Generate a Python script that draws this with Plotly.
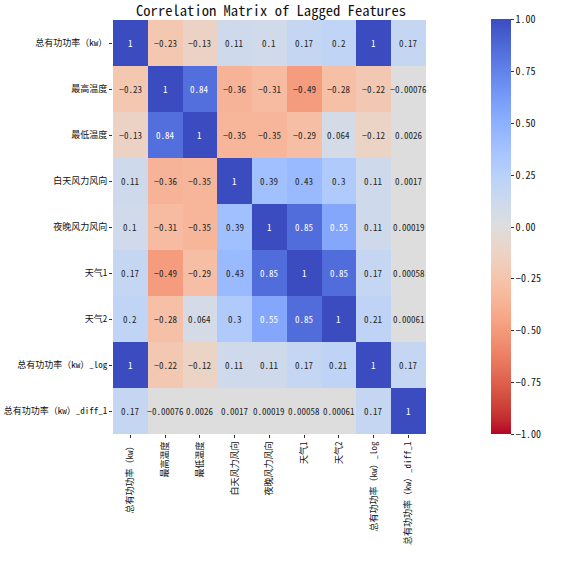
import plotly.graph_objects as go

labels = ["总有功功率（kw）", "最高温度", "最低温度", "白天风力风向", "夜晚风力风向",
          "天气1", "天气2", "总有功功率（kw）_log", "总有功功率（kw）_diff_1"]

row0 = [1, -0.23, -0.13, 0.11, 0.1, 0.17, 0.2, 1, 0.17]
row1 = [-0.23, 1, 0.84, -0.36, -0.31, -0.49, -0.28, -0.22, -0.00076]
row2 = [-0.13, 0.84, 1, -0.35, -0.35, -0.29, 0.064, -0.12, 0.0026]
row3 = [0.11, -0.36, -0.35, 1, 0.39, 0.43, 0.3, 0.11, 0.0017]
row4 = [0.1, -0.31, -0.35, 0.39, 1, 0.85, 0.55, 0.11, 0.00019]
row5 = [0.17, -0.49, -0.29, 0.43, 0.85, 1, 0.85, 0.17, 0.00058]
row6 = [0.2, -0.28, 0.064, 0.3, 0.55, 0.85, 1, 0.21, 0.00061]
row7 = [1, -0.22, -0.12, 0.11, 0.11, 0.17, 0.21, 1, 0.17]
row8 = [0.17, -0.00076, 0.0026, 0.0017, 0.00019, 0.00058, 0.00061, 0.17, 1]
z = [row0, row1, row2, row3, row4, row5, row6, row7, row8]

cbar_ticks = [-1.0, -0.75, -0.5, -0.25, 0.0, 0.25, 0.5, 0.75, 1.0]

# matplotlib coolwarm (Moreland), reversed so +1 is blue
cw = [(59,76,192),(68,90,204),(77,104,215),(87,117,225),(98,130,234),(108,142,241),
      (119,154,247),(130,165,251),(141,176,254),(152,185,255),(163,194,255),(174,201,253),
      (184,208,249),(194,213,244),(204,217,238),(213,219,230),(221,221,221),(229,216,209),
      (236,211,197),(241,204,185),(245,196,173),(247,187,160),(247,177,148),(247,166,135),
      (244,154,123),(241,141,111),(236,127,99),(229,112,88),(222,96,77),(213,80,66),
      (203,62,56),(192,40,47),(180,4,38)]
n = len(cw) - 1
colorscale = [[i / n, "rgb(%d,%d,%d)" % cw[n - i]] for i in range(n + 1)]

FONT = "Noto Sans Mono CJK SC, SimHei, DejaVu Sans Mono, Noto Sans CJK SC, sans-serif"

fig = go.Figure(go.Heatmap(
    z=z, x=labels, y=labels, zmin=-1, zmax=1, colorscale=colorscale,
    colorbar=dict(x=1.196, xanchor="left", xpad=0, ypad=0, y=0.5, yanchor="middle",
                  len=415, lenmode="pixels",
                  thickness=20, outlinewidth=0, tickvals=cbar_ticks,
                  ticktext=[("%.2f" % t).replace("-", "−") for t in cbar_ticks],
                  ticks="outside", ticklen=3, tickcolor="#333",
                  tickfont=dict(size=10, color="#111", family=FONT)),
    hoverinfo="skip",
))

annotations = []
for i, r in enumerate(z):
    for j, v in enumerate(r):
        annotations.append(dict(
            x=labels[j], y=labels[i], xref="x", yref="y", showarrow=False,
            text=format(v, ".2g").replace("-", "−"),
            font=dict(size=9, family=FONT, color="white" if v > 0.5 else "#262626")))

fig.update_layout(
    width=571, height=568,
    margin=dict(l=113, r=142, t=20, b=134),
    paper_bgcolor="white", plot_bgcolor="white",
    title=dict(text="Correlation Matrix of Lagged Features", xref="paper", x=0.5, xanchor="center",
               y=0.981, yanchor="middle", font=dict(size=14.6, family=FONT, color="#111")),
    annotations=annotations,
    font=dict(family=FONT),
)
fig.update_xaxes(tickangle=-90, ticks="outside", ticklen=3, tickcolor="#333", automargin=False,
                 tickfont=dict(size=9, color="#111", family=FONT), showgrid=False, zeroline=False)
fig.update_yaxes(autorange="reversed", ticks="outside", ticklen=3, tickcolor="#333", automargin=False,
                 tickfont=dict(size=9, color="#111", family=FONT), showgrid=False, zeroline=False)

fig.write_html("out.html", config={"displayModeBar": False},
               post_script="document.body.style.margin='0';document.body.style.overflow='hidden';")
